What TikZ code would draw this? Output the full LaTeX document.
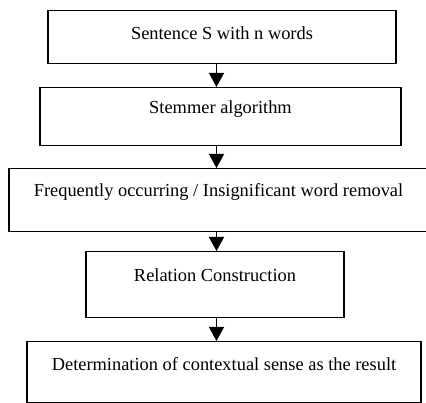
\documentclass[tikz,border=0pt]{standalone}
\usepackage{fontspec}
\setmainfont{Liberation Serif}
\usetikzlibrary{arrows.meta}

\begin{document}
\begin{tikzpicture}[x=1pt, y=-1pt,
    stage/.style={draw, line width=1.5pt, inner sep=0pt, anchor=north,
      font=\fontsize{18.4}{22}\selectfont},
    flow/.style={line width=1.4pt, -{Triangle[width=15pt,length=14pt]}}]
  \useasboundingbox (0,0) rectangle (426,403);
  \def\ax{216.5}
  % boxes: top edge, text baseline set by text height / text depth
  \node[stage, minimum width=348pt, text height=29pt, text depth=24pt] (sent) at (222,10) {Sentence S with n words};
  \node[stage, minimum width=361pt, text height=26pt, text depth=32pt] (stem) at (220.5,87) {Stemmer algorithm};
  \node[stage, minimum width=419pt, text height=28pt, text depth=35pt] (remv) at (218.5,168) {Frequently occurring / Insignificant word removal};
  \node[stage, minimum width=258pt, text height=30pt, text depth=36pt] (rel) at (215,251) {Relation Construction};
  \node[stage, minimum width=394pt, text height=29pt, text depth=32pt] (res) at (224,341) {Determination of contextual sense as the result};
  % arrows down the chain
  \coordinate (axis) at (\ax,0);
  \draw[flow] (sent.south -| axis) -- (stem.north -| axis);
  \draw[flow] (stem.south -| axis) -- (remv.north -| axis);
  \draw[flow] (remv.south -| axis) -- (rel.north -| axis);
  \draw[flow] (rel.south -| axis) -- (res.north -| axis);
\end{tikzpicture}
\end{document}
